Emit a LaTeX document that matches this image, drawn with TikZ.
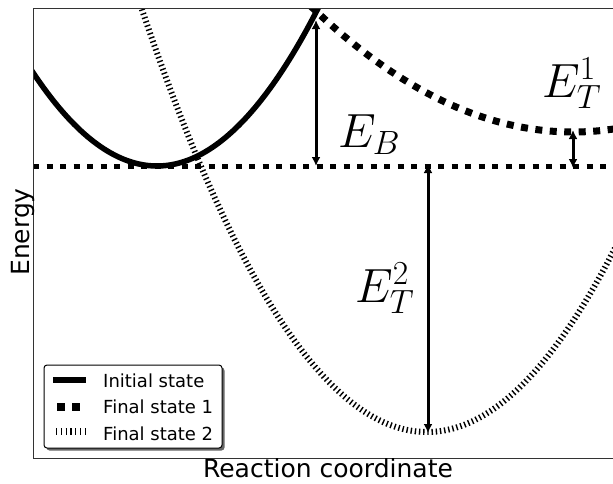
\RequirePackage{fix-cm}
\documentclass[tikz,border=0pt]{standalone}
\usepackage[no-math]{fontspec}
\newfontfamily\labelfont{DejaVu Sans}
\usetikzlibrary{arrows.meta,shadows}

\begin{document}
\begin{tikzpicture}[
  x=1pt, y=-1pt,
  initial/.style={line width=5.5pt},
  finalone/.style={line width=7pt, dash pattern=on 7pt off 7.5pt},
  finaltwo/.style={line width=6pt, dash pattern=on 1.4pt off 2.8pt},
  level/.style={line width=5pt, dash pattern=on 6pt off 7.5pt},
  gaparrow/.style={line width=3pt, {Latex[length=9pt,width=9pt]}-{Latex[length=9pt,width=9pt]}},
  elabel/.style={anchor=base west, inner sep=0pt, font=\fontsize{48}{56}\selectfont},
  legtext/.style={anchor=base west, inner sep=0pt, font=\labelfont\fontsize{18}{21}\selectfont},
  axlabel/.style={anchor=base, inner sep=0pt, font=\labelfont\fontsize{25}{30}\selectfont},
  legbox/.style={draw, line width=1pt, rounded corners=3pt, fill=white,
    drop shadow={shadow xshift=2.5pt, shadow yshift=-2.5pt, fill=black, opacity=0.6}}
]
\useasboundingbox (0,0) rectangle (613,483);

% curves, clipped to the axes
\begin{scope}
  \clip (33,8) rectangle (613,458);
  \draw[initial] plot[domain=30:330, samples=90] (\x, {166-60.8*((\x-157)/100)^2});
  \draw[finalone] plot[domain=300:620, samples=90] (\x, {132-18.3*((\x-573)/100)^2});
  \draw[finaltwo] plot[domain=130:620, samples=150] (\x, {432-52*((\x-427)/100)^2});
  \coordinate (lvlL) at (33,166);
  \coordinate (lvlR) at (613,166);
  \draw[level] (lvlL) -- (lvlR);
\end{scope}

% energy gaps
\coordinate (ebbot) at (316,166);
\coordinate (ebtop) at (316,20);
\coordinate (etonetop) at (573,130);
\coordinate (etonebot) at (573,168);
\coordinate (ettwotop) at (428,164);
\coordinate (ettwobot) at (428,433);
\draw[gaparrow] (ebbot) -- (ebtop);
\draw[gaparrow] (etonetop) -- (etonebot);
\draw[gaparrow] (ettwotop) -- (ettwobot);

\node[elabel] (eb) at (338,147) {$E_B$};
\node[elabel] (etone) at (542,97) {$E_T^1$};
\node[elabel] (ettwo) at (355,302) {$E_T^2$};

% axes
\draw[line width=1pt, black!80] (33,8) rectangle (620,458);
\node[axlabel] (xlab) at (328,477) {Reaction coordinate};
\node[axlabel, rotate=90] (ylab) at (29,232) {Energy};

% legend
\node[legbox, minimum width=178pt, minimum height=83pt] (legend) at (133,406.5) {};
\draw[initial] (53,380) -- (86,380);
\draw[finalone, line width=7.5pt, dash pattern=on 7.5pt off 7.5pt] (57,407) -- (80,407);
\draw[finaltwo, line width=7pt, dash pattern=on 1.2pt off 3.6pt] (56,431.5) -- (85,431.5);
\node[legtext] (leginit) at (103,387) {Initial state};
\node[legtext] (legone) at (103,413) {Final state 1};
\node[legtext] (legtwo) at (103,440) {Final state 2};
\end{tikzpicture}
\end{document}
